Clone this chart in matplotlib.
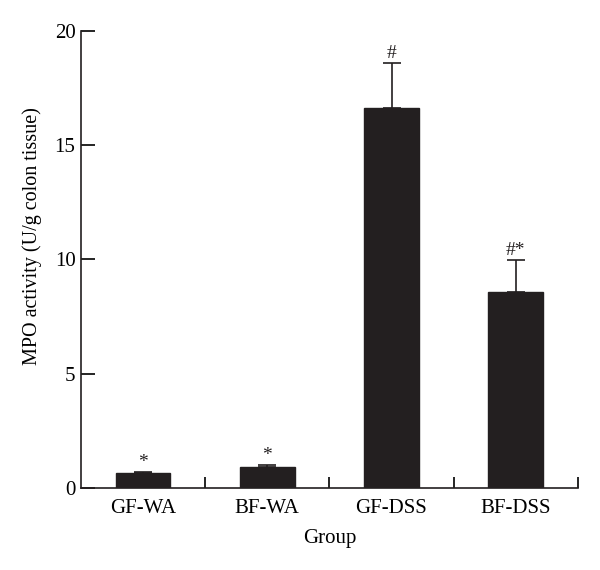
import numpy as np
import matplotlib
matplotlib.use("Agg")
import matplotlib.pyplot as plt

groups = ["GF-WA", "BF-WA", "GF-DSS", "BF-DSS"]
mpo = [0.64, 0.93, 16.62, 8.55]
err = [0.06, 0.06, 1.97, 1.43]
marks = ["*", "*", "#", "#*"]

plt.rcParams["font.family"] = ["Liberation Serif", "DejaVu Serif"]

fig = plt.figure(figsize=(6, 5.7), dpi=100)
ax = fig.add_axes([0.135, 0.144, 0.828, 0.802])

x = np.arange(1, len(groups) + 1)
dark = "#231f20"
ax.bar(x, mpo, 0.44, color=dark, edgecolor=dark, zorder=2)
ax.errorbar(x, mpo, yerr=[np.zeros(len(err)), err], fmt="none",
            ecolor=dark, elinewidth=1.2, capsize=6.5, capthick=1.2, zorder=1)
for xi, v, e, m in zip(x, mpo, err, marks):
    ax.text(xi, v + e + 0.05, m, ha="center", va="bottom", fontsize=14, color=dark)

ax.set_xlim(0.5, 4.5)
ax.set_ylim(0, 20)
ax.set_yticks([0, 5, 10, 15, 20])
ax.set_xticks(x, groups)
ax.set_xticks([1.5, 2.5, 3.5, 4.5], minor=True)
ax.tick_params(axis="x", which="major", length=0, pad=8, labelsize=15)
ax.tick_params(axis="x", which="minor", direction="in", length=8, width=1.2)
ax.tick_params(axis="y", direction="in", length=10, width=1.2, labelsize=15, pad=4)
for s in ["top", "right"]:
    ax.spines[s].set_visible(False)
for s in ["left", "bottom"]:
    ax.spines[s].set_linewidth(1.2)
    ax.spines[s].set_color(dark)

ax.set_xlabel("Group", fontsize=15, labelpad=8)
ax.set_ylabel("MPO activity (U/g colon tissue)", fontsize=14.5, labelpad=9)
ax.yaxis.set_label_coords(-0.078, 0.55)

fig.savefig("out.png", dpi=100)
